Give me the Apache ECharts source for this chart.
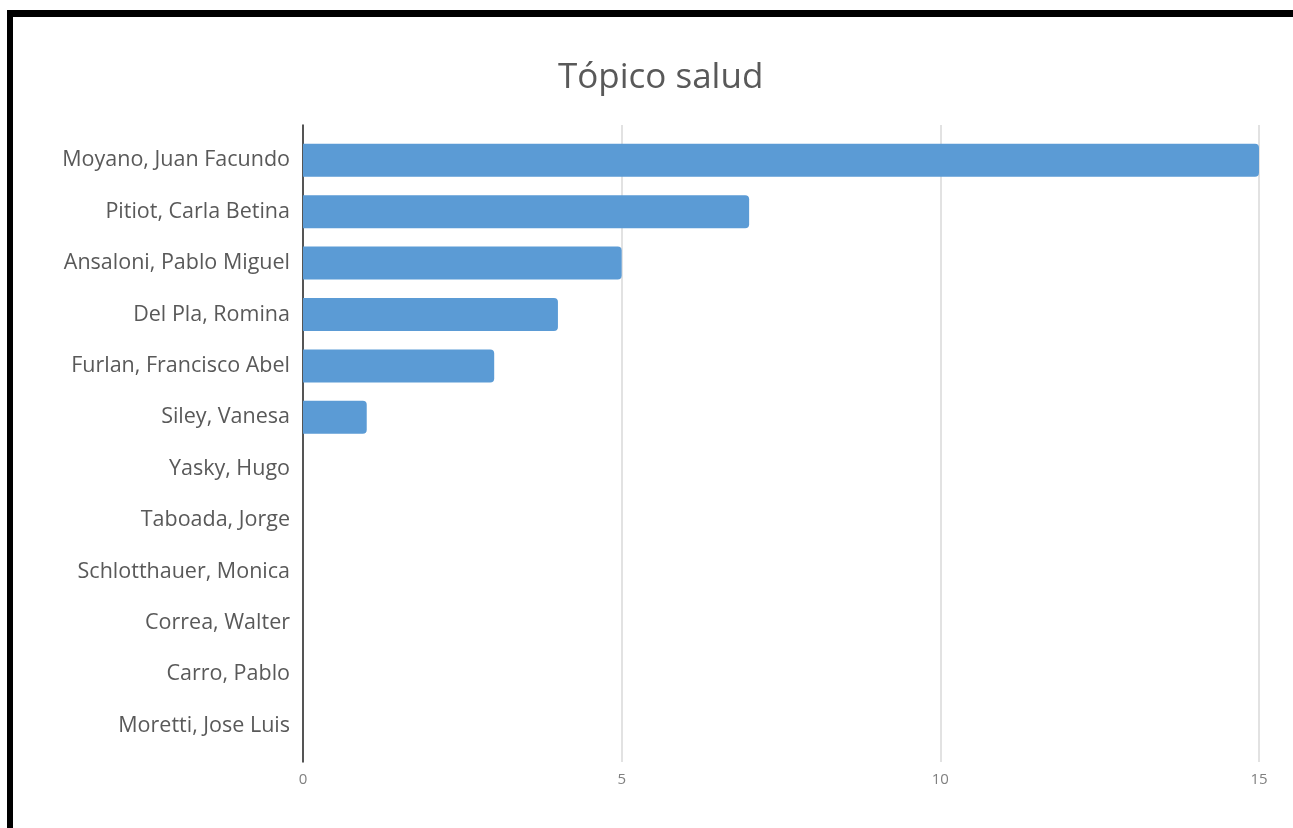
<!DOCTYPE html>
<html><head><meta charset="utf-8">
<script src="https://cdn.jsdelivr.net/npm/echarts@6/dist/echarts.min.js"></script>
<style>
html,body{margin:0;padding:0;background:#fff;}
#frame{position:absolute;left:7px;top:10px;width:1300px;height:830px;border-top:7px solid #000;border-left:6px solid #000;}
#c{position:absolute;left:0;top:0;width:1293px;height:828px;}
</style></head>
<body><div id="frame"></div><div id="c"></div>
<script>
const titleText = 'Tópico salud';
const categories = ['Moyano, Juan Facundo','Pitiot, Carla Betina','Ansaloni, Pablo Miguel','Del Pla, Romina','Furlan, Francisco Abel','Siley, Vanesa','Yasky, Hugo','Taboada, Jorge','Schlotthauer, Monica','Correa, Walter','Carro, Pablo','Moretti, Jose Luis'];
const values = [15, 7, 5, 4, 3, 1, 0, 0, 0, 0, 0, 0];
const xTicks = [0, 5, 10, 15];

const font = 'Open Sans';
const chart = echarts.init(document.getElementById('c'), null, {renderer:'canvas'});
chart.setOption({
  backgroundColor: 'transparent',
  animation: false,
  title: {text: titleText, left: 553, top: 56, textStyle:{fontFamily:font, fontSize:35, fontWeight:'normal', color:'#595959'}},
  grid: [
    {left: 303, right: 34, top: 125, bottom: 66},
    {left: 303, right: 34, top: 134.6, bottom: 76.6}
  ],
  xAxis: [
    {gridIndex:0, type:'value', min:xTicks[0], max:xTicks[xTicks.length-1], interval:5,
     axisLine:{show:false}, axisTick:{show:false},
     axisLabel:{fontFamily:font, fontSize:15, color:'#808080', margin:10},
     splitLine:{show:true, lineStyle:{color:'#d9d9d9', width:1.5}}},
    {gridIndex:1, type:'value', min:0, max:15, show:false, splitLine:{show:false}}
  ],
  yAxis: [
    {gridIndex:0, type:'value', min:0, max:1, axisLine:{show:true, onZero:false, lineStyle:{color:'#262626', width:1.5}},
     axisTick:{show:false}, axisLabel:{show:false}, splitLine:{show:false}},
    {gridIndex:1, type:'category', inverse:true, data:categories,
     axisLine:{show:false}, axisTick:{show:false},
     axisLabel:{fontFamily:font, fontSize:21.5, color:'#595959', margin:13}}
  ],
  series: [{
    type:'bar', xAxisIndex:1, yAxisIndex:1, data:values, barWidth:33,
    itemStyle:{color:'#5B9BD5', borderRadius:[0,4,4,0]}
  }]
});
</script></body></html>
